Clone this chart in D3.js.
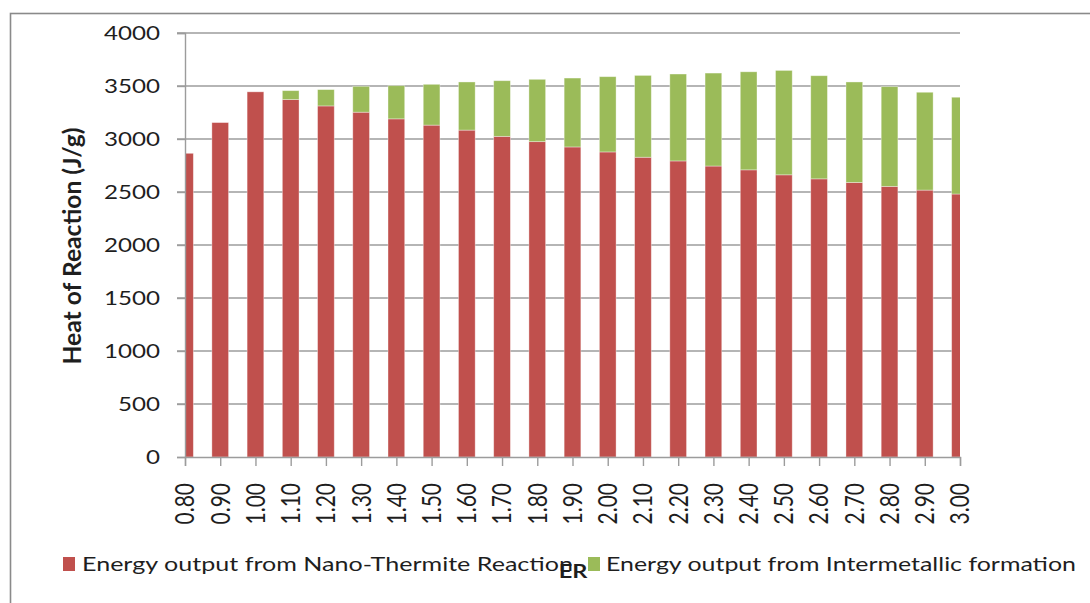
<!DOCTYPE html>
<html>
<head>
<meta charset="utf-8">
<script src="https://cdn.jsdelivr.net/npm/d3@7"></script>
<style>
  html, body { margin: 0; padding: 0; background: #fff; }
  svg { display: block; }
  text { font-family: Lato, "Open Sans", sans-serif; fill: #1e1e1e; }
</style>
</head>
<body>
<svg id="chart" width="1090" height="603"></svg>
<script>
// Equivalence ratio (ER) categories
const categories = ["0.80","0.90","1.00","1.10","1.20","1.30","1.40","1.50","1.60","1.70","1.80","1.90",
                    "2.00","2.10","2.20","2.30","2.40","2.50","2.60","2.70","2.80","2.90","3.00"];
// Energy output from Nano-Thermite Reaction (J/g)
const thermite = [2865,3155,3445,3372,3312,3253,3190,3131,3084,3025,2975,2925,
                  2878,2828,2793,2745,2709,2662,2624,2590,2553,2518,2481];
// Energy output from Intermetallic formation (J/g)
const intermetallic = [0,0,0,84,154,244,313,385,454,525,588,650,
                       710,772,820,877,925,985,973,948,941,923,913];
const yTicks = [0,500,1000,1500,2000,2500,3000,3500,4000];
const seriesNames = ["Energy output from Nano-Thermite Reaction", "Energy output from Intermetallic formation"];
const seriesColors = ["#c0504d", "#9bbb59"];

const svg = d3.select("#chart");
const plotLeft = 185, plotRight = 960, plotTop = 33, plotBottom = 457;
const sx = 1.24; // horizontal glyph stretch used by all labels

// Outer chart frame
svg.append("rect")
  .attr("x", 10.5).attr("y", 13.5).attr("width", 1200).attr("height", 800)
  .attr("fill", "none").attr("stroke", "#8a8a8a").attr("stroke-width", 1.6);

const x = d3.scalePoint().domain(categories).range([plotLeft, plotRight]);
const y = d3.scaleLinear().domain([0, 4000]).range([plotBottom, plotTop]);
const barW = 16.7;

// Gridlines (extend left through the tick marks)
svg.append("g").selectAll("line").data(yTicks.filter(d => d > 0)).join("line")
  .attr("x1", plotLeft - 8).attr("x2", plotRight)
  .attr("y1", d => y(d)).attr("y2", d => y(d))
  .attr("stroke", "#9c9c9c").attr("stroke-width", 1.4);

// Stacked bars
const rows = categories.map((c, i) => ({ cat: c, a: thermite[i], b: intermetallic[i] }));
const stacked = d3.stack().keys(["a", "b"])(rows);

svg.append("defs").append("clipPath").attr("id", "plotClip")
  .append("rect").attr("x", plotLeft).attr("y", 0).attr("width", plotRight - plotLeft).attr("height", plotBottom);

const barsG = svg.append("g").attr("clip-path", "url(#plotClip)");
stacked.forEach((layer, li) => {
  barsG.append("g").selectAll("rect").data(layer.filter(d => d[1] > d[0])).join("rect")
    .attr("x", d => x(d.data.cat) - barW / 2)
    .attr("width", barW)
    .attr("y", d => y(d[1]))
    .attr("height", d => y(d[0]) - y(d[1]))
    .attr("fill", seriesColors[li])
    .attr("stroke", "rgba(255,255,255,0.45)")
    .attr("stroke-width", 0.8);
});

// Y axis
const yAxis = d3.axisLeft(y).tickValues(yTicks).tickSize(8).tickFormat(d3.format("d"));
const yG = svg.append("g").attr("transform", `translate(${plotLeft},0)`).call(yAxis);
yG.select(".domain").attr("stroke", "#9c9c9c").attr("stroke-width", 1.4);
yG.selectAll(".tick line").attr("stroke", "#9c9c9c").attr("stroke-width", 1.4);
yG.selectAll(".tick text").remove();
svg.append("g").selectAll("text").data(yTicks).join("text")
  .attr("transform", d => `translate(160,${y(d)}) scale(${sx},1)`)
  .attr("text-anchor", "end").attr("dy", "0.36em")
  .style("font-size", "19.5px")
  .text(d3.format("d"));

// X axis
const xAxis = d3.axisBottom(x).tickSize(9).tickFormat("");
const xG = svg.append("g").attr("transform", `translate(0,${plotBottom})`).call(xAxis);
xG.select(".domain").attr("stroke", "#9c9c9c").attr("stroke-width", 1.4);
xG.selectAll(".tick line").attr("stroke", "#9c9c9c").attr("stroke-width", 1.4);
svg.append("g").selectAll("text").data(categories).join("text")
  .attr("transform", d => `translate(${x(d)},483) scale(${sx},1) rotate(-90)`)
  .attr("text-anchor", "end").attr("dy", "0.36em")
  .style("font-size", "21px")
  .text(d => d);

// Y axis title
svg.append("text")
  .attr("transform", `translate(72,246) scale(${sx},1) rotate(-90)`)
  .attr("text-anchor", "middle").attr("dy", "0.36em")
  .style("font-size", "20px").style("font-weight", "bold")
  .attr("textLength", 237).attr("lengthAdjust", "spacingAndGlyphs")
  .text("Heat of Reaction (J/g)");

// Legend
const legend = [
  { sq: 63, tx: 82, len: 491 },
  { sq: 588, tx: 606, len: 470 }
];
legend.forEach((l, i) => {
  svg.append("rect").attr("x", l.sq).attr("y", 557).attr("width", 12).attr("height", 14)
    .attr("fill", seriesColors[i]);
  svg.append("text").attr("x", l.tx).attr("y", 571)
    .style("font-size", "20px")
    .attr("textLength", l.len).attr("lengthAdjust", "spacingAndGlyphs")
    .text(seriesNames[i]);
});

// X axis title (drawn last, sits over the legend)
svg.append("text")
  .attr("transform", `translate(573,578) scale(${sx},1)`)
  .attr("text-anchor", "middle")
  .style("font-size", "19px").style("font-weight", "bold")
  .text("ER");
</script>
</body>
</html>
